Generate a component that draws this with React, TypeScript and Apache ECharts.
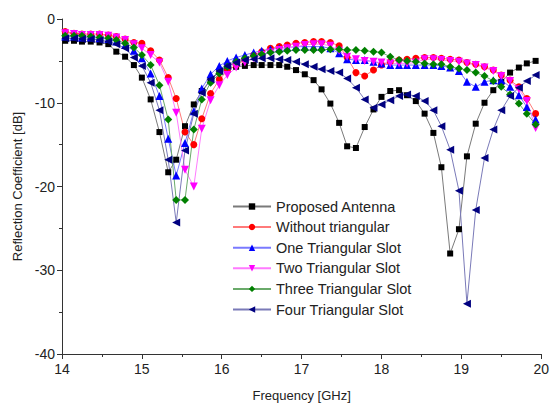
import React, { useEffect, useRef } from "react";
import * as echarts from "echarts";

const freq = [
  14.04, 14.15, 14.25, 14.36, 14.47, 14.58, 14.68, 14.79, 14.9, 15.0,
  15.11, 15.22, 15.33, 15.43, 15.54, 15.65, 15.75, 15.86, 15.97, 16.07,
  16.18, 16.29, 16.4, 16.5, 16.61, 16.72, 16.82, 16.93, 17.04, 17.15,
  17.25, 17.36, 17.47, 17.57, 17.68, 17.79, 17.9, 18.0, 18.11, 18.22,
  18.32, 18.43, 18.54, 18.65, 18.75, 18.86, 18.97, 19.07, 19.18, 19.29,
  19.4, 19.5, 19.61, 19.72, 19.82, 19.93,
];

const proposed = [
  -2.6, -2.6, -2.7, -2.7, -2.8, -3.0, -3.9, -4.5, -5.5, -7.0,
  -9.6, -13.5, -18.3, -16.8, -12.8, -10.2, -8.6, -7.3, -6.3, -5.9,
  -5.7, -5.6, -5.5, -5.5, -5.5, -5.5, -5.7, -6.1, -6.6, -7.3,
  -8.4, -10.1, -12.4, -15.2, -15.4, -12.9, -10.8, -9.3, -8.6, -8.5,
  -9.1, -9.8, -11.3, -13.6, -17.7, -28.0, -25.1, -16.4, -12.5, -10.0,
  -8.5, -7.5, -6.4, -5.8, -5.3, -5.0,
];

const withoutTri = [
  -1.5, -1.7, -1.8, -1.8, -1.8, -1.9, -2.1, -2.4, -2.8, -2.9,
  -3.8, -4.9, -7.0, -9.5, -13.5, -15.0, -11.9, -8.9, -7.2, -6.2,
  -5.5, -4.9, -4.3, -3.9, -3.5, -3.3, -3.1, -2.9, -2.8, -2.7,
  -2.7, -2.8, -3.2, -4.6, -6.4, -6.8, -6.1, -5.5, -5.1, -4.9,
  -4.8, -4.7, -4.6, -4.6, -4.7, -4.8, -4.9, -5.2, -5.4, -5.7,
  -6.1, -6.7, -7.3, -8.1, -9.5, -11.3,
];

const oneSlot = [
  -2.1, -2.1, -2.2, -2.2, -2.3, -2.4, -2.7, -3.1, -3.8, -4.7,
  -6.5, -9.2, -14.3, -18.7, -14.8, -11.0, -8.3, -6.6, -5.6, -5.0,
  -4.6, -4.3, -4.0, -3.8, -3.6, -3.5, -3.4, -3.3, -3.3, -3.3,
  -3.3, -3.5, -4.1, -4.8, -4.9, -4.9, -5.1, -5.3, -5.5, -5.5,
  -5.5, -5.5, -5.5, -5.5, -5.6, -5.8, -6.2, -7.5, -8.1, -7.5,
  -7.3, -7.3, -8.1, -9.1, -10.5, -12.0,
];

const twoSlot = [
  -1.7, -1.8, -1.9, -1.9, -1.9, -2.0, -2.2, -2.5, -3.0, -3.5,
  -4.3, -5.2, -7.5, -11.2, -18.0, -20.0, -13.1, -9.7, -7.9, -6.7,
  -5.8, -5.2, -4.7, -4.3, -4.0, -3.7, -3.5, -3.3, -3.1, -3.0,
  -3.0, -3.2, -3.8, -4.5, -4.8, -5.0, -5.1, -5.2, -5.3, -5.3,
  -5.3, -5.2, -4.8, -4.8, -4.9, -5.0, -5.1, -5.3, -5.5, -5.8,
  -6.2, -6.8, -7.4, -8.4, -9.8, -13.0,
];

const threeSlot = [
  -2.0, -2.0, -2.0, -2.1, -2.2, -2.3, -2.5, -2.9, -3.4, -4.3,
  -5.5, -7.9, -12.0, -21.6, -21.6, -13.2, -9.6, -7.6, -6.5, -5.7,
  -5.1, -4.7, -4.4, -4.2, -4.0, -3.9, -3.8, -3.7, -3.7, -3.7,
  -3.7, -3.6, -3.6, -3.7, -3.7, -3.8, -3.9, -4.0, -4.5, -4.9,
  -5.0, -5.1, -5.3, -5.4, -5.4, -5.7, -5.9, -6.1, -6.4, -6.8,
  -7.4, -8.1, -9.0, -10.1, -11.3, -12.6,
];

const fourSlot = [
  -2.3, -2.3, -2.4, -2.4, -2.5, -2.7, -3.0, -3.5, -4.6, -5.6,
  -7.6, -10.9, -16.8, -24.3, -15.7, -11.3, -8.8, -7.2, -6.2, -5.6,
  -5.2, -4.9, -4.8, -4.7, -4.7, -4.8, -4.9, -5.1, -5.4, -5.7,
  -6.0, -6.2, -6.4, -7.1, -8.2, -9.6, -10.6, -10.2, -9.7, -9.2,
  -9.0, -9.2, -9.8, -10.9, -12.8, -15.6, -20.5, -34.0, -22.8, -16.6,
  -13.2, -10.9, -9.2, -8.2, -7.4, -6.7,
];

const seriesNames = [
  "Proposed Antenna",
  "Without triangular",
  "One Triangular Slot",
  "Two Triangular Slot",
  "Three Triangular Slot",
  "Four Triangular Slot",
];

const xTicks = [14, 15, 16, 17, 18, 19, 20];
const yTicks = [0, -10, -20, -30, -40];

const FONT = "'Liberation Sans', Arial, sans-serif";

export default function App() {
  const ref = useRef<HTMLDivElement>(null);

  useEffect(() => {
    if (!ref.current) return;
    const chart = echarts.init(ref.current, undefined, { renderer: "svg" });

    const values = [proposed, withoutTri, oneSlot, twoSlot, threeSlot, fourSlot];
    const styles = [
      { symbol: "rect", size: 6, rotate: 0, color: "#000000", line: "#7a7a7a" },
      { symbol: "circle", size: 7, rotate: 0, color: "#ff0000", line: "#ff7a7a" },
      { symbol: "triangle", size: 8, rotate: 0, color: "#0000ff", line: "#7a7aff" },
      { symbol: "triangle", size: 8, rotate: 180, color: "#ff00ff", line: "#ff7aff" },
      { symbol: "diamond", size: 8, rotate: 0, color: "#008000", line: "#6aaa6a" },
      { symbol: "triangle", size: 8, rotate: 90, color: "#000080", line: "#7a7ab8" },
    ];

    const series = seriesNames.map((name, i) => ({
      name,
      type: "line",
      data: freq.map((f, j) => [f, values[i][j]]),
      symbol: styles[i].symbol,
      symbolSize: styles[i].size,
      symbolRotate: styles[i].rotate,
      showAllSymbol: true,
      itemStyle: { color: styles[i].color },
      lineStyle: { color: styles[i].line, width: 1 },
      emphasis: { disabled: true },
    }));

    chart.setOption({
      animation: false,
      backgroundColor: "#ffffff",
      textStyle: { fontFamily: FONT },
      grid: { left: 62, right: 9, top: 19, bottom: 54 },
      xAxis: {
        type: "value",
        min: xTicks[0],
        max: xTicks[xTicks.length - 1],
        interval: 1,
        name: "Frequency [GHz]",
        nameLocation: "middle",
        nameGap: 35,
        nameTextStyle: { fontSize: 13, color: "#222", fontFamily: FONT },
        axisLine: { show: true, onZero: false, lineStyle: { color: "#333", width: 1 } },
        axisTick: { show: true, length: 5, lineStyle: { color: "#333" } },
        minorTick: { show: true, splitNumber: 2, length: 3, lineStyle: { color: "#333" } },
        splitLine: { show: false },
        axisLabel: { fontSize: 14, color: "#222", margin: 8, fontFamily: FONT },
      },
      yAxis: {
        type: "value",
        min: yTicks[yTicks.length - 1],
        max: yTicks[0],
        interval: 10,
        name: "Reflection Coefficient [dB]",
        nameLocation: "middle",
        nameGap: 38,
        nameTextStyle: { fontSize: 13, color: "#222", fontFamily: FONT },
        axisLine: { show: true, onZero: false, lineStyle: { color: "#333", width: 1 } },
        axisTick: { show: true, length: 5, lineStyle: { color: "#333" } },
        minorTick: { show: true, splitNumber: 2, length: 3, lineStyle: { color: "#333" } },
        splitLine: { show: false },
        axisLabel: { fontSize: 14, color: "#222", margin: 7, fontFamily: FONT },
      },
      legend: {
        orient: "vertical",
        left: 227,
        top: 194,
        itemWidth: 38,
        itemHeight: 8,
        itemGap: 5.6,
        textStyle: { fontSize: 14.5, color: "#222", fontFamily: FONT, lineHeight: 14 },
        data: seriesNames,
      },
      series,
    });

    return () => chart.dispose();
  }, []);

  return (
    <div
      ref={ref}
      style={{ position: "fixed", left: 0, top: 0, width: 552, height: 408, background: "#fff" }}
    />
  );
}
